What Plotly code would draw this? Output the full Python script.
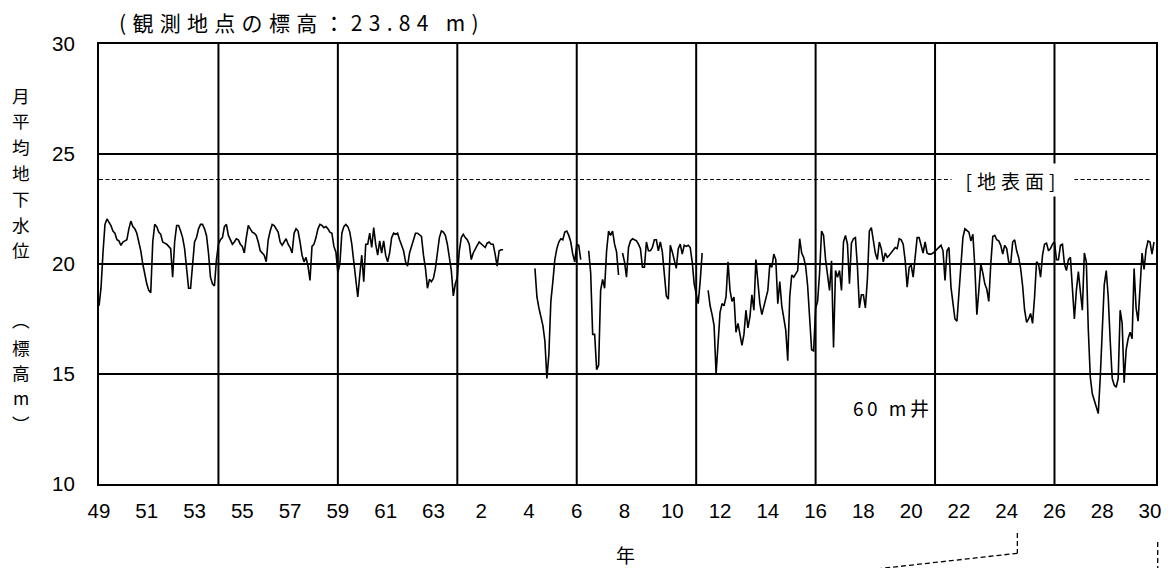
import plotly.graph_objects as go

# ---------------- data (monthly mean groundwater level, m above sea level) ----------------
START_YEAR = 1974  # Showa 49

levels_1974_1983 = [
    18.1, 18.9, 20.5, 21.8, 22.05, 21.9, 21.75, 21.5, 21.4, 21.1, 21.05, 20.85,
    21.0, 21.05, 21.1, 21.6, 21.95, 21.7, 21.6, 21.4, 21.0, 20.6, 20.0, 19.5,
    19.1, 18.8, 18.7, 21.0, 21.8, 21.7, 21.45, 21.35, 21.0, 20.95, 20.9, 20.8,
    20.7, 19.4, 21.0, 21.75, 21.75, 21.5, 21.2, 20.7, 19.9, 18.9, 18.9, 20.1,
    21.0, 21.2, 21.6, 21.8, 21.8, 21.6, 21.3, 20.5, 19.4, 19.1, 19.0, 20.2,
    20.9, 21.1, 21.2, 21.7, 21.8, 21.3, 21.1, 20.9, 21.0, 21.15, 21.1, 20.9,
    20.8, 20.5, 21.2, 21.75, 21.6, 21.45, 21.4, 21.3, 21.0, 20.6, 20.5, 20.4,
    20.1, 21.1, 21.5, 21.8, 21.75, 21.6, 21.45, 21.0, 20.85, 21.0, 21.15, 20.9,
    20.75, 20.5, 21.4, 21.6, 21.5, 21.0, 20.4, 20.1, 20.3, 19.9, 19.25, 20.8,
    20.9, 21.2, 21.6, 21.8, 21.75, 21.65, 21.7, 21.6, 21.45, 21.4, 20.8, 20.55,
]

levels_1984_1993 = [
    19.6, 20.0, 21.4, 21.7, 21.8, 21.7, 21.45, 20.9, 20.1, 19.2, 18.5, 19.5,
    20.4, 19.2, 20.9, 20.9, 21.4, 20.75, 21.65, 20.9, 20.4, 21.05, 20.5, 21.05,
    20.4, 20.1, 20.5, 21.2, 21.4, 21.35, 21.4, 21.1, 20.8, 20.6, 20.1, 19.9,
    20.5, 20.8, 21.2, 21.4, 21.4, 21.3, 21.25, 20.4, 19.8, 18.9, 19.3, 19.2,
    19.35, 19.8, 20.6, 21.2, 21.5, 21.45, 21.3, 20.9, 20.3, 19.7, 18.55, 19.1,
    19.4, 20.6, 21.2, 21.35, 21.2, 21.1, 20.9, 20.2, 20.5, 20.7, 20.85, 21.0,
    20.9, 20.85, 20.75, 20.95, 21.0, 20.9, 20.9, 20.45, 19.9, 20.6, 20.65, 20.65,
    None, None, None, None, None, None, None, None, None, None, None, None,
    None, None, None, 19.8, 18.5, 18.0, 17.65, 17.2, 16.5, 14.8, 15.9, 18.3,
    19.2, 20.2, 20.7, 21.0, 21.15, 21.1, 21.45, 21.5, 21.3, 21.0, 20.45, 20.1,
]

levels_1994_2003 = [
    20.9, 20.85, 20.2, None, None, None, 20.6, 19.6, 16.8, 16.8, 15.2, 15.4,
    18.8, 19.3, 18.9, 20.6, 21.5, 21.3, 21.5, 20.9, 20.55, 19.5, None, 20.5,
    20.1, 19.4, 20.75, 21.05, 21.15, 21.1, 21.05, 20.9, 20.7, 19.85, 19.85, 21.0,
    20.6, 20.6, 20.75, 21.1, 21.1, 20.6, 21.0, 20.55, 19.6, 18.55, 18.4, 20.85,
    20.55, 20.2, 19.8, 20.7, 20.9, 20.45, 20.85, 20.8, 20.85, 20.75, 20.1, 19.1,
    18.55, 18.2, 19.2, 20.5, None, None, 18.8, 18.1, 17.7, 17.2, 15.0, 16.5,
    17.8, 18.2, 18.1, 18.5, 20.1, 18.8, 18.3, 18.5, 16.9, 17.3, 16.8, 16.3,
    16.8, 17.9, 17.1, 17.6, 18.6, 17.9, 20.2, 19.1, 18.2, 17.7, 18.1, 18.4,
    18.8, 20.0, 19.85, 20.45, 20.2, 18.2, 19.2, 18.1, 17.5, 17.0, 15.6, 18.5,
    19.5, 19.4, 19.55, 19.7, 21.15, 20.5, 20.3, 19.9, 19.0, 17.6, 16.1, 16.05,
]

levels_2004_2013 = [
    18.0, 18.3, 19.6, 21.5, 21.3, 20.2, 19.5, 18.8, 20.15, 16.2, 19.7, 19.4,
    19.7, 18.8, 21.0, 21.3, 20.9, 19.1, 20.95, 21.15, 21.2, 19.9, 18.0, 18.6,
    18.6, 18.0, 19.3, 21.5, 21.65, 21.0, 20.5, 20.2, 21.0, 20.7, 20.1, 20.5,
    20.3, 20.4, 20.5, 20.6, 20.75, 20.7, 21.15, 21.1, 20.9, 20.15, 18.95, 19.85,
    19.95, 19.4, 20.3, 21.2, 21.2, 20.9, 20.5, 21.0, 20.5, 20.45, 20.45, 20.5,
    20.6, 20.7, 20.8, 20.85, 20.6, 19.25, 20.6, 20.75, 18.95, 18.2, 17.5, 17.4,
    18.8, 20.15, 21.2, 21.6, 21.5, 21.45, 21.05, 21.35, 19.85, 17.7, 18.8, 20.0,
    19.6, 19.1, 18.85, 18.3, 20.0, 21.25, 21.3, 21.1, 21.05, 20.85, 20.45, 20.85,
    20.7, 20.1, 20.0, 21.0, 21.1, 20.6, 20.3, 19.8, 19.0, 17.9, 17.35, 17.5,
    17.75, 17.3, 18.5, 20.1, 20.0, 19.4, 20.4, 20.9, 20.95, 20.6, 20.7, 20.9,
]

levels_2014_2018 = [
    21.0, 20.2, 20.2, 20.85, 20.9, 20.0, 19.7, 20.2, 20.3, 18.9, 17.5, 18.8,
    19.65, 18.75, 17.9, 20.5, 20.1, 17.0, 14.85, 14.1, 13.8, 13.5, 13.2, 14.85,
    16.8, 19.05, 19.7, 18.5, 16.5, 14.8, 14.5, 14.4, 14.8, 17.9, 17.3, 14.6,
    16.1, 16.6, 16.9, 16.6, 19.8, 18.0, 17.4, 19.3, 20.5, 19.75, 20.65, 21.05,
    21.0, 20.45, 21.0,
]

tick_years = list(range(1974, 2019, 2))
tick_labels = ["49", "51", "53", "55", "57", "59", "61", "63", "2", "4", "6", "8",
               "10", "12", "14", "16", "18", "20", "22", "24", "26", "28", "30"]
grid_years = [1979, 1984, 1989, 1994, 1999, 2004, 2009, 2014]
ground_level = 23.84
title_text = "(観測地点の標高：23.84 m)"
well_text = "60 m井"
ground_text = "[地表面]"
x_title = "年"
y_title_top = "月平均地下水位"
y_title_bottom = "︵標高m︶"

levels = levels_1974_1983 + levels_1984_1993 + levels_1994_2003 + levels_2004_2013 + levels_2014_2018
month_index = list(range(len(levels)))


def month_of(year):
    return (year - START_YEAR) * 12


# ---------------- layout geometry (page has an 8px body margin) ----------------
OFF = 8
W, H = 1173 - OFF, 568 - OFF
PLOT_X0, PLOT_X1, PLOT_Y0, PLOT_Y1 = 99, 1161, 44, 484   # page pixels
L, T = PLOT_X0 - OFF, PLOT_Y0 - OFF
R, B = (OFF + W) - PLOT_X1, (OFF + H) - PLOT_Y1
PW, PH = PLOT_X1 - PLOT_X0, PLOT_Y1 - PLOT_Y0


def px(xp):
    return (xp - PLOT_X0) / PW


def py(yp):
    return (PLOT_Y1 - yp) / PH


JP = "Noto Sans CJK JP"
LAT = "Liberation Sans, Arial, sans-serif"

fig = go.Figure()
fig.add_trace(go.Scatter(
    x=month_index, y=levels, mode="lines",
    line=dict(color="black", width=1.6),
    connectgaps=False, showlegend=False, hoverinfo="skip",
))

shapes = []
for g in grid_years:
    shapes.append(dict(type="line", xref="x", yref="paper",
                       x0=month_of(g), x1=month_of(g), y0=0, y1=1,
                       line=dict(color="black", width=2), layer="below"))
shapes.append(dict(type="line", xref="x", yref="y",
                   x0=0, x1=month_of(2018), y0=ground_level, y1=ground_level,
                   line=dict(color="black", width=1.2, dash="4px,2.5px")))
# callout leader lines below the axis
dash_style = dict(color="black", width=1.3, dash="5px,3px")
shapes.append(dict(type="line", xref="paper", yref="paper",
                   x0=px(1021.7), x1=px(1021.7), y0=py(533), y1=py(553.3), line=dash_style))
shapes.append(dict(type="line", xref="paper", yref="paper",
                   x0=px(1021.7), x1=px(880), y0=py(553.3), y1=py(569), line=dash_style))
shapes.append(dict(type="line", xref="paper", yref="paper",
                   x0=px(1162.7), x1=px(1162.7), y0=py(542), y1=py(572), line=dash_style))

annotations = [
    dict(text=title_text, xref="paper", yref="paper", x=px(117), y=py(22),
         xanchor="left", yanchor="middle", align="left", showarrow=False,
         font=dict(family=JP, size=21, color="black")),
    dict(text=well_text, xref="paper", yref="paper", x=px(855), y=py(407),
         xanchor="left", yanchor="middle", align="left", showarrow=False,
         font=dict(family=JP, size=19, color="black")),
    dict(text=ground_text, xref="x", yref="y", x=459, y=ground_level,
         xanchor="center", yanchor="middle", align="center", showarrow=False,
         bgcolor="white", width=120, height=30,
         font=dict(family=JP, size=19, color="black")),
    dict(text=x_title, xref="paper", yref="paper", x=px(628), y=py(554),
         xanchor="center", yanchor="middle", showarrow=False,
         font=dict(family=JP, size=19, color="black")),
]

# vertical (stacked) y-axis title, one character per annotation
top_y = [95, 120.8, 146.6, 172.4, 198.2, 224, 249.8]
bottom_y = [319, 347, 372.3, 397, 423]
for ch, yp in list(zip(y_title_top, top_y)) + list(zip(y_title_bottom, bottom_y)):
    annotations.append(dict(text=ch, xref="paper", yref="paper", x=px(21), y=py(yp),
                            xanchor="center", yanchor="middle", showarrow=False, borderpad=0,
                            font=dict(family=JP, size=17.6, color="black")))

fig.update_layout(
    width=W, height=H, margin=dict(l=L, r=R, t=T, b=B, pad=0),
    paper_bgcolor="white", plot_bgcolor="white",
    shapes=shapes, annotations=annotations, showlegend=False,
    xaxis=dict(range=[0, 531], tickvals=[month_of(y) for y in tick_years], ticktext=tick_labels,
               showgrid=False, zeroline=False, showline=True, mirror=True,
               linecolor="black", linewidth=2, ticks="",
               tickfont=dict(family=LAT, size=20.5, color="black"), ticklabelstandoff=7),
    yaxis=dict(range=[10, 30], tickvals=[10, 15, 20, 25, 30],
               showgrid=True, gridcolor="black", gridwidth=1.6, zeroline=False,
               showline=True, mirror=True, linecolor="black", linewidth=2, ticks="",
               tickfont=dict(family=LAT, size=20.5, color="black"), ticklabelstandoff=18),
)

post = """
var gd = document.getElementById('{plot_id}');
function ls(idx, v){
  gd.querySelectorAll('.annotation[data-index="' + idx + '"] .annotation-text').forEach(function(t){
    t.style.letterSpacing = v;
  });
}
ls(0, '6.3px'); ls(1, '3.5px'); ls(2, '5px');
"""

fig.write_html("out.html", post_script=post)
